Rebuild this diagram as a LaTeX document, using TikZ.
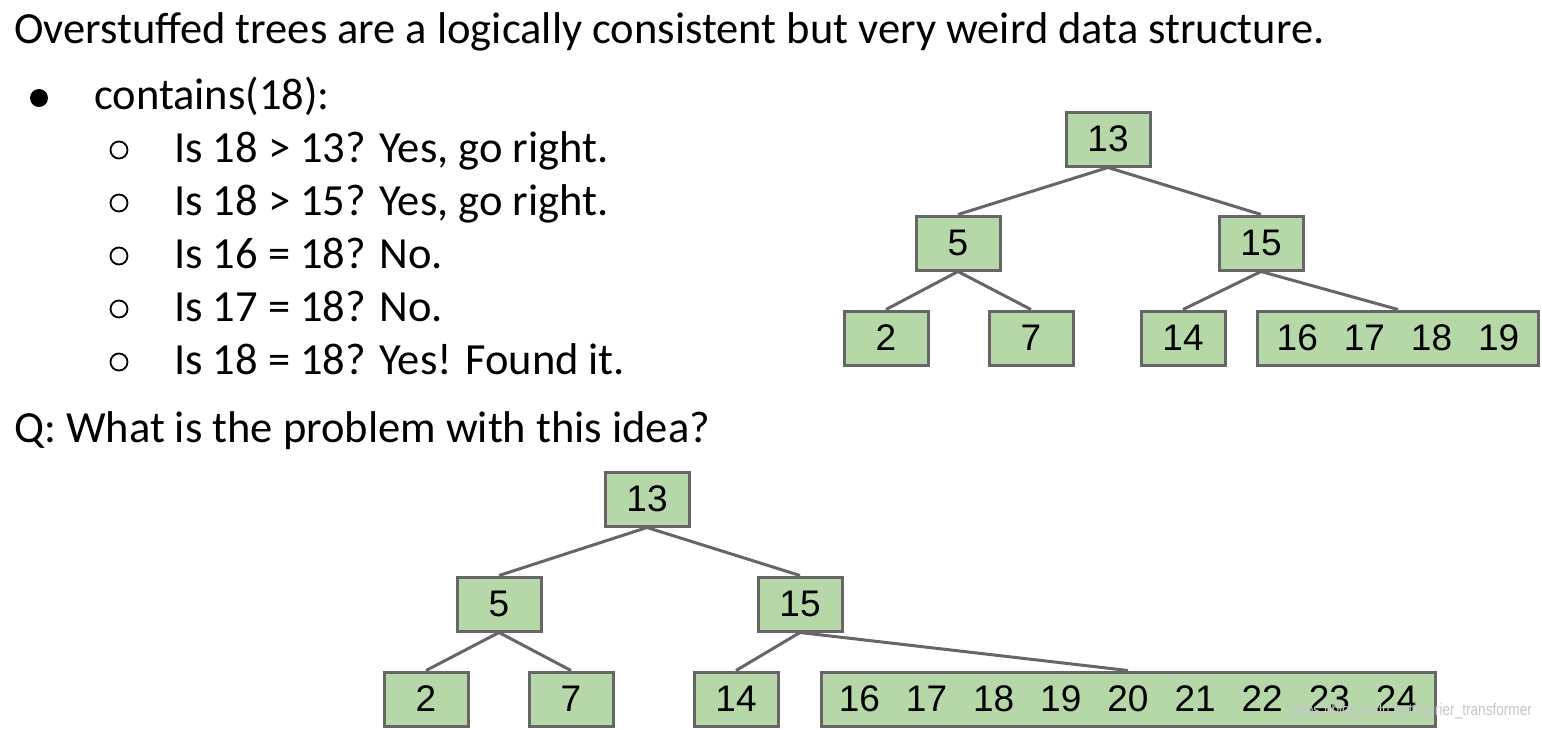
\documentclass[tikz,border=0pt]{standalone}
\usepackage{fontspec}
\setmainfont{Carlito}
\newfontfamily\keyfamily{Liberation Sans}
\usepackage{xcolor}
\definecolor{keygreen}{HTML}{B6D7A8}
\definecolor{linegray}{HTML}{666666}
\newcommand{\kgap}{\hspace{26pt}}
\tikzset{
  key/.style={draw=linegray, fill=keygreen, line width=3pt, minimum width=84pt,
    minimum height=54pt, inner sep=0pt, font=\keyfamily\fontsize{37}{37}\selectfont},
  link/.style={draw=linegray, line width=3pt},
  textline/.style={anchor=base west, inner sep=0pt, font=\fontsize{44.5}{52}\selectfont},
  dotbullet/.style={circle, fill=black, inner sep=0pt, minimum size=18pt},
  ringbullet/.style={circle, draw=black, line width=1.8pt, inner sep=0pt, minimum size=17pt},
}

\begin{document}
\begin{tikzpicture}[x=1pt, y=-1pt]

		\useasboundingbox (0,0) rectangle (1542,729);

		% Text on the left
		\node[textline] (title) at (14,43) {Overstuffed trees are a logically consistent but very weird data structure.};
		\node[dotbullet] (b0) at (39,98) {};
		\node[textline] (t0) at (94,109) {contains(18):};
		\node[ringbullet] (b1) at (119,150) {};
		\node[textline] (t1) at (174,162) {Is 18 > 13? Yes, go right.};
		\node[ringbullet] (b2) at (119,203) {};
		\node[textline] (t2) at (174,215) {Is 18 > 15? Yes, go right.};
		\node[ringbullet] (b3) at (119,256) {};
		\node[textline] (t3) at (174,268) {Is 16 = 18? No.};
		\node[ringbullet] (b4) at (119,309) {};
		\node[textline] (t4) at (174,321) {Is 17 = 18? No.};
		\node[ringbullet] (b5) at (119,362) {};
		\node[textline] (t5) at (174,374) {Is 18 = 18? Yes! Found it.};
		\node[textline] (q) at (14,442) {Q: What is the problem with this idea?};

		% First tree (upper right)
		\node[key] (a13) at (1108,139) {13};
		\node[key] (a5)  at (958,243)  {5};
		\node[key] (a15) at (1261,243) {15};
		\node[key] (a2)  at (886,338)  {2};
		\node[key] (a7)  at (1031,338) {7};
		\node[key] (a14) at (1183,338) {14};
		\node[key, minimum width=281pt] (aleaf) at (1398,338) {16\kgap 17\kgap 18\kgap 19};

		\draw[link] (a13.south) -- (a5.north);
		\draw[link] (a13.south) -- (a15.north);
		\draw[link] (a5.south) -- (a2.north);
		\draw[link] (a5.south) -- (a7.north);
		\draw[link] (a15.south) -- (a14.north);
		\draw[link] (a15.south) -- (aleaf.north);

		% Second tree (bottom)
		\node[key] (b13) at (647,499) {13};
		\node[key] (b5)  at (499,604) {5};
		\node[key] (b15) at (800,604) {15};
		\node[key] (b2)  at (426,699) {2};
		\node[key] (b7)  at (571,699) {7};
		\node[key] (b14) at (736,699) {14};
		\node[key, minimum width=614pt] (bleaf) at (1128,699) {16\kgap 17\kgap 18\kgap 19\kgap 20\kgap 21\kgap 22\kgap 23\kgap 24};

		\draw[link] (b13.south) -- (b5.north);
		\draw[link] (b13.south) -- (b15.north);
		\draw[link] (b5.south) -- (b2.north);
		\draw[link] (b5.south) -- (b7.north);
		\draw[link] (b15.south) -- (b14.north);
		\draw[link] (b15.south) -- (bleaf.north);

		% Watermark
		\node[anchor=east, inner sep=0pt, text=gray!45, font=\keyfamily\fontsize{17}{17}\selectfont, xscale=0.8]
			(mark) at (1532,711) {https://blog.csdn.net/fourier\_transformer};

	\end{tikzpicture}
\end{document}
